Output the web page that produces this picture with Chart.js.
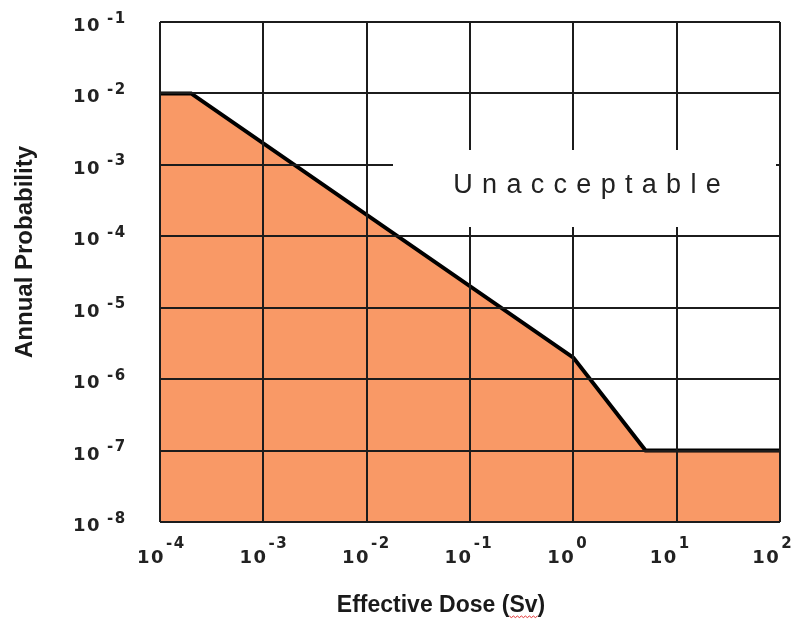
<!DOCTYPE html>
<html>
<head>
<meta charset="utf-8">
<script src="https://cdn.jsdelivr.net/npm/chart.js@4/dist/chart.umd.min.js"></script>
<style>
  html, body { margin: 0; padding: 0; background: #ffffff; }
  canvas { display: block; }
</style>
</head>
<body>
<canvas id="chart" width="797" height="619"></canvas>
<script>
// Risk criterion boundary: effective dose (Sv) vs annual probability
const doseSv     = [1e-4, 2e-4, 1, 5, 100];
const annualProb = [1e-2, 1e-2, 2e-6, 1e-7, 1e-7];

// Decade ticks and their exponent labels
const doseTickValues = [1e-4, 1e-3, 1e-2, 1e-1, 1e0, 1e1, 1e2];
const doseTickExps   = ['-4', '-3', '-2', '-1', '0', '1', '2'];
const probTickValues = [1e-8, 1e-7, 1e-6, 1e-5, 1e-4, 1e-3, 1e-2, 1e-1];
const probTickExps   = ['-8', '-7', '-6', '-5', '-4', '-3', '-2', '-1'];

const regionLabel = 'Unacceptable';
const xTitle = 'Effective Dose (Sv)';
const yTitle = 'Annual Probability';

const INK = '#1c1c1c';
const FILL = '#F99966';

function drawSpaced(ctx, text, x, y, spacing) {
  for (const ch of text) {
    ctx.fillText(ch, x, y);
    x += ctx.measureText(ch).width + spacing;
  }
  return x;
}

function spacedWidth(ctx, text, spacing) {
  let w = 0;
  for (const ch of text) w += ctx.measureText(ch).width + spacing;
  return w - spacing;
}

const annotations = {
  id: 'annotations',
  afterDraw(chart) {
    const ctx = chart.ctx;
    const xs = chart.scales.x, ys = chart.scales.y;
    ctx.save();

    // white panel behind the region label
    ctx.fillStyle = '#ffffff';
    ctx.fillRect(393, 150, 383, 77);

    ctx.fillStyle = '#222222';
    ctx.textBaseline = 'alphabetic';
    ctx.textAlign = 'left';
    ctx.font = '27px "Liberation Sans", Arial, sans-serif';
    const lw = spacedWidth(ctx, regionLabel, 9.3);
    drawSpaced(ctx, regionLabel, 587 - lw / 2, 193, 9.3);

    const baseFont = 'bold 18px "DejaVu Sans", sans-serif';
    const expFont = 'bold 15px "DejaVu Sans", sans-serif';

    // x tick labels 10^n
    doseTickValues.forEach((v, i) => {
      const px = xs.getPixelForValue(v);
      ctx.font = baseFont;
      let x = px - 23 - i * 0.8;
      x = drawSpaced(ctx, '10', x, 563, 1.5);
      ctx.font = expFont;
      drawSpaced(ctx, doseTickExps[i], x + 1, 548, 1.5);
    });

    // y tick labels 10^n
    probTickValues.forEach((v, i) => {
      const py = ys.getPixelForValue(v);
      ctx.font = baseFont;
      drawSpaced(ctx, '10', 73, py + 9, 1.5);
      ctx.font = expFont;
      drawSpaced(ctx, probTickExps[i], 107, py + 0.5, 1.5);
    });

    // axis titles
    ctx.fillStyle = '#1a1a1a';
    ctx.font = 'bold 23px "Liberation Sans", Arial, sans-serif';
    ctx.textAlign = 'center';
    ctx.fillText(xTitle, 441, 612);

    // spell-check squiggle under "Sv"
    const full = ctx.measureText(xTitle).width;
    const svStart = 441 - full / 2 + ctx.measureText('Effective Dose (').width;
    const svW = ctx.measureText('Sv').width;
    ctx.strokeStyle = '#e03030';
    ctx.lineWidth = 1;
    ctx.beginPath();
    for (let k = 0; k <= Math.round(svW / 2); k++) {
      const xx = svStart + k * 2;
      const yy = 616 + (k % 2 === 0 ? 0 : 1.6);
      if (k === 0) ctx.moveTo(xx, yy); else ctx.lineTo(xx, yy);
    }
    ctx.stroke();

    ctx.save();
    ctx.translate(25, 252);
    ctx.rotate(-Math.PI / 2);
    ctx.font = 'bold 24px "Liberation Sans", Arial, sans-serif';
    ctx.textAlign = 'center';
    ctx.textBaseline = 'middle';
    ctx.fillText(yTitle, 0, 0);
    ctx.restore();

    ctx.restore();
  }
};

new Chart(document.getElementById('chart'), {
  type: 'scatter',
  data: {
    datasets: [{
      data: doseSv.map((d, i) => ({ x: d, y: annualProb[i] })),
      showLine: true,
      fill: 'start',
      backgroundColor: FILL,
      borderColor: '#000000',
      borderWidth: 4,
      pointRadius: 0,
      tension: 0
    }]
  },
  options: {
    responsive: false,
    animation: false,
    devicePixelRatio: 1,
    layout: { padding: { left: 160, right: 17, top: 22, bottom: 97 } },
    plugins: { legend: { display: false }, tooltip: { enabled: false } },
    scales: {
      x: {
        type: 'logarithmic',
        min: 1e-4,
        max: 1e2,
        afterBuildTicks: s => { s.ticks = doseTickValues.map(v => ({ value: v })); },
        ticks: { display: false },
        grid: { color: INK, lineWidth: 2, drawTicks: false, z: 1 },
        border: { display: false }
      },
      y: {
        type: 'logarithmic',
        min: 1e-8,
        max: 1e-1,
        afterBuildTicks: s => { s.ticks = probTickValues.map(v => ({ value: v })); },
        ticks: { display: false },
        grid: { color: INK, lineWidth: 2, drawTicks: false, z: 1 },
        border: { display: false }
      }
    }
  },
  plugins: [annotations]
});
</script>
</body>
</html>
